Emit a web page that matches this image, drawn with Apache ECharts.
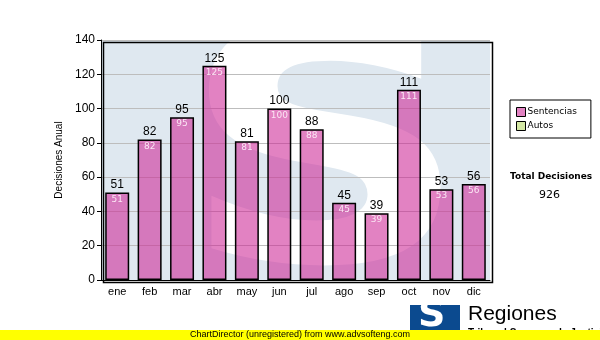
<!DOCTYPE html>
<html><head><meta charset="utf-8">
<script src="https://cdn.jsdelivr.net/npm/echarts@6/dist/echarts.min.js"></script>
<style>html,body{margin:0;padding:0;background:#fff}#c{width:600px;height:340px}</style>
</head><body><div id="c"></div>
<script>
const categories = ['ene','feb','mar','abr','may','jun','jul','ago','sep','oct','nov','dic'];
const sentencias = [51,82,95,125,81,100,88,45,39,111,53,56];
const autos = [];
const yTicks = {min:0, max:140, interval:20};
const totalLabel = 'Total Decisiones';
const totalValue = '926';

const chart = echarts.init(document.getElementById('c'), null, {renderer:'canvas'});
const G = {left:101, top:40, width:389, height:240};
chart.setOption({
  animation:false,
  backgroundColor:'#fff',
  grid:{left:G.left, top:G.top, width:G.width, height:G.height, show:true, backgroundColor:'#dfe8f0', borderWidth:0},
  graphic:[
    {type:'text', z:1, left:180, top:10, scaleX:1.22, scaleY:1,
     style:{text:'S', fill:'#ffffff', font:'bold 330px "DejaVu Sans"'}},
    {type:'rect', z:1, left:0, top:G.top+G.height+1, shape:{width:100, height:60}, style:{fill:'#fff'}},
    {type:'rect', z:1, left:G.left+G.width+1, top:0, shape:{width:110, height:340}, style:{fill:'#fff'}},
    {type:'rect', z:1, left:0, top:0, shape:{width:600, height:G.top}, style:{fill:'#fff'}},
    {type:'rect', z:50, left:G.left, top:G.top, shape:{width:G.width, height:G.height}, style:{fill:'none', stroke:'#000', lineWidth:1.5}},
    {type:'text', z:50, left:510, top:172, style:{text:totalLabel, fill:'#000', font:'bold 9px "DejaVu Sans"'}},
    {type:'text', z:50, left:539, top:190, style:{text:totalValue, fill:'#000', font:'11px "DejaVu Sans"'}},
    {type:'rect', z:50, left:410, top:305, shape:{width:50, height:30}, style:{fill:'#0b4a8f'}},
    {type:'text', z:51, left:418, top:297, style:{text:'S', fill:'#fff', font:'bold 38px "DejaVu Sans"'}},
    {type:'text', z:50, left:468, top:304, style:{text:'Regiones', fill:'#000', font:'21px "Liberation Sans"'}},
    {type:'text', z:50, left:468, top:328, style:{text:'Tribunal Supremo de Justicia', fill:'#000', font:'bold 10px "Liberation Sans"'}},
    {type:'rect', z:60, left:0, top:330, shape:{width:600, height:10}, style:{fill:'#ffff00'}},
    {type:'text', z:61, left:'center', top:330, style:{text:'ChartDirector (unregistered) from www.advsofteng.com', fill:'#000', font:'9px "Liberation Sans"'}}
  ],
  legend:{
    orient:'vertical', left:510, top:100, data:['Sentencias','Autos'],
    backgroundColor:'#fff', borderColor:'#000', borderWidth:1, padding:[7,14,7,6],
    itemWidth:9, itemHeight:9, itemGap:4, icon:'rect',
    itemStyle:{borderColor:'#000', borderWidth:1},
    textStyle:{fontFamily:'DejaVu Sans', fontSize:9, color:'#000', padding:[0,0,0,-3]}
  },
  xAxis:{
    type:'category', data:categories, boundaryGap:true, z:5,
    axisLine:{lineStyle:{color:'#000', width:1}},
    axisTick:{alignWithLabel:true, length:4, lineStyle:{color:'#000'}},
    axisLabel:{color:'#000', fontFamily:'Liberation Sans', fontSize:11, margin:6}
  },
  yAxis:{
    type:'value', min:yTicks.min, max:yTicks.max, interval:yTicks.interval, z:5,
    name:'Decisiones Anual', nameLocation:'middle', nameGap:29,
    nameTextStyle:{fontFamily:'Liberation Sans', fontSize:10, color:'#000'},
    axisLine:{show:true, lineStyle:{color:'#000'}},
    axisTick:{show:true, length:4, lineStyle:{color:'#000'}},
    axisLabel:{color:'#000', fontFamily:'Liberation Sans', fontSize:12, margin:6},
    splitLine:{show:true, lineStyle:{color:'#bdbdbd', width:1}}
  },
  series:[
    {name:'Sentencias', type:'bar', stack:'t', z:10, data:sentencias, barCategoryGap:'26%',
     itemStyle:{color:'rgba(205,40,150,0.58)', borderColor:'#000', borderWidth:1.5},
     label:{show:true, position:'insideTop', distance:0, offset:[0,-15],
       formatter:p=>'{a|'+p.value+'}\n{b|'+p.value+'}',
       rich:{a:{color:'#000', fontFamily:'Liberation Sans', fontSize:12, lineHeight:15, align:'center'},
             b:{color:'#fbe6f4', fontFamily:'DejaVu Sans', fontSize:9, lineHeight:14, align:'center'}}}},
    {name:'Autos', type:'bar', stack:'t', z:10, data:autos,
     itemStyle:{color:'#d4e8a4', borderColor:'#000', borderWidth:1}}
  ]
});
</script></body></html>
